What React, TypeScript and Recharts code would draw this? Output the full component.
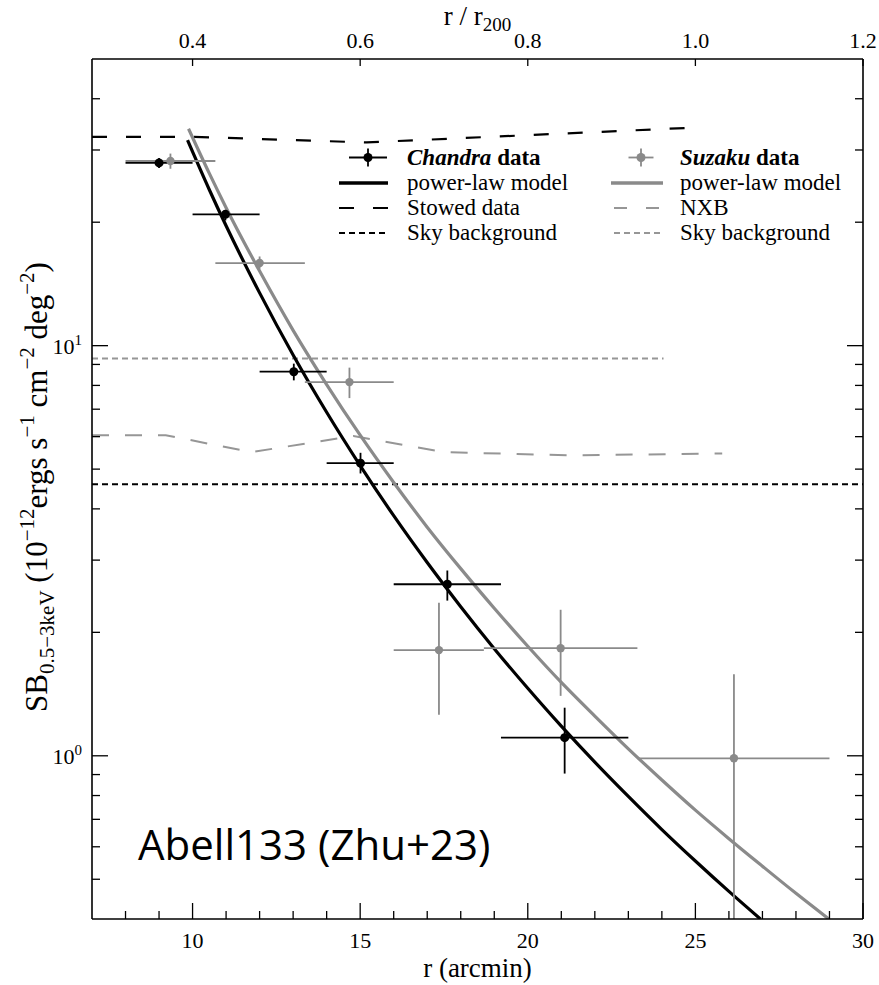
import React from 'react';
import { ComposedChart, Line, Scatter, XAxis, YAxis, ErrorBar, Legend } from 'recharts';

// ---------------- data ----------------
// Chandra surface-brightness profile
const chandraR = [9.0, 10.98, 13.02, 15.01, 17.6, 21.1];
const chandraRLo = [8.0, 10.0, 12.0, 14.0, 16.0, 19.2];
const chandraRHi = [10.0, 12.0, 14.0, 16.0, 19.2, 23.0];
const chandraSB = [27.9, 20.9, 8.64, 5.17, 2.62, 1.107];
const chandraSBLo = [27.1, 20.2, 8.23, 4.88, 2.39, 0.905];
const chandraSBHi = [28.7, 21.4, 9.04, 5.48, 2.83, 1.31];

// Suzaku surface-brightness profile
const suzakuR = [9.34, 12.0, 14.68, 17.35, 20.98, 26.15];
const suzakuRLo = [8.0, 10.68, 13.35, 16.0, 18.69, 23.27];
const suzakuRHi = [10.68, 13.35, 16.0, 18.69, 23.27, 29.0];
const suzakuSB = [28.2, 15.9, 8.15, 1.81, 1.83, 0.986];
const suzakuSBLo = [27.0, 15.4, 7.45, 1.26, 1.4, 0.4];
const suzakuSBHi = [29.4, 16.5, 8.84, 2.36, 2.27, 1.58];

// power-law models
const chandraModelR = [9.85, 10.5, 11, 12, 13, 14, 15, 16, 17, 18, 19, 20, 21, 22, 23, 24, 25, 26, 26.94];
const chandraModelSB = [31.7, 24.0, 19.6, 13.45, 9.49, 6.88, 5.1, 3.85, 2.96, 2.31, 1.825, 1.461, 1.181, 0.965, 0.796, 0.661, 0.554, 0.467, 0.4];
const suzakuModelR = [9.88, 10.5, 11, 12, 13, 14, 15, 16, 17, 18, 19, 20, 21, 22, 23, 24, 25, 26, 27, 28, 28.98];
const suzakuModelSB = [33.8, 26.3, 21.7, 15.2, 10.9, 8.04, 6.05, 4.64, 3.61, 2.86, 2.29, 1.85, 1.51, 1.25, 1.04, 0.873, 0.737, 0.628, 0.538, 0.462, 0.4];

// backgrounds
const stowedR = [7, 10, 15.2, 24.9];
const stowedSB = [32.3, 32.3, 31.3, 34.0];
const nxbR = [7, 9.2, 11.75, 14.8, 17.5, 21.3, 25.8];
const nxbSB = [6.05, 6.05, 5.5, 6.02, 5.5, 5.4, 5.46];
const chandraSkyR = [7, 30];
const chandraSkySB = [4.59, 4.59];
const suzakuSkyR = [7, 24.05];
const suzakuSkySB = [9.3, 9.3];

// axes
const xDomain = [7, 30];
const xMajorTicks = [10, 15, 20, 25, 30];
const xMinorTicks = [8, 9, 11, 12, 13, 14, 16, 17, 18, 19, 21, 22, 23, 24, 26, 27, 28, 29];
const topTickLabels = ['0.4', '0.6', '0.8', '1.0', '1.2'];
const yDomain = [0.4, 50];
const yMajorTicks = [1, 10];
const yMajorExponents = ['0', '1'];
const yMinorTicks = [0.5, 0.6, 0.7, 0.8, 0.9, 2, 3, 4, 5, 6, 7, 8, 9, 20, 30, 40];

const legendLeftLabels = ['power-law model', 'Stowed data', 'Sky background'];
const legendRightLabels = ['power-law model', 'NXB', 'Sky background'];
const annotationText = 'Abell133 (Zhu+23)';

// ---------------- build series ----------------
const toLine = (xs: number[], ys: number[]) => xs.map((x, i) => ({ x, y: ys[i] }));
const toPoints = (xs: number[], xlo: number[], xhi: number[], ys: number[], ylo: number[], yhi: number[]) =>
  xs.map((x, i) => ({
    x,
    y: ys[i],
    ex: [x - xlo[i], xhi[i] - x],
    ey: [ys[i] - ylo[i], yhi[i] - ys[i]],
  }));

const chandraPts = toPoints(chandraR, chandraRLo, chandraRHi, chandraSB, chandraSBLo, chandraSBHi);
const suzakuPts = toPoints(suzakuR, suzakuRLo, suzakuRHi, suzakuSB, suzakuSBLo, suzakuSBHi);
const chandraModel = toLine(chandraModelR, chandraModelSB);
const suzakuModel = toLine(suzakuModelR, suzakuModelSB);
const stowed = toLine(stowedR, stowedSB);
const nxb = toLine(nxbR, nxbSB);
const chandraSky = toLine(chandraSkyR, chandraSkySB);
const suzakuSky = toLine(suzakuSkyR, suzakuSkySB);

const bottomTicks = [...xMinorTicks, ...xMajorTicks].sort((a, b) => a - b);
const yTicks = [...yMinorTicks, ...yMajorTicks].sort((a, b) => a - b);

// ---------------- style ----------------
const W = 879;
const H = 985;
const PLOT = { left: 92, right: 863, top: 59, bottom: 919 };
const SERIF = '"Liberation Serif", Tinos, "Times New Roman", Times, "Noto Serif", "DejaVu Serif", FreeSerif, serif';
const SANS = '"Open Sans", "Noto Sans", sans-serif';
const serif = (size: number, extra: any = {}) => ({ fontFamily: SERIF, fontSize: size, ...extra });
const BLACK = '#000000';
const GRAY = '#8a8a8a';
const LGRAY = '#969696';
const TICK_W = 1.3;

const BottomTick = (p: any) => {
  const v = p.payload.value;
  const major = xMajorTicks.includes(v);
  return (
    <g>
      <line x1={p.x} x2={p.x} y1={p.y} y2={p.y - (major ? 16 : 8)} stroke={BLACK} strokeWidth={TICK_W} />
      {major && (
        <text x={p.x} y={p.y + 29} textAnchor="middle" style={serif(22)} fill={BLACK}>
          {v}
        </text>
      )}
    </g>
  );
};

const TopTick = (p: any) => {
  const v = p.payload.value;
  const idx = xMajorTicks.indexOf(v);
  return (
    <g>
      <line x1={p.x} x2={p.x} y1={p.y} y2={p.y + 7} stroke={BLACK} strokeWidth={TICK_W} />
      {idx >= 0 && (
        <text x={p.x} y={p.y - 11} textAnchor="middle" style={serif(22)} fill={BLACK}>
          {topTickLabels[idx]}
        </text>
      )}
    </g>
  );
};

const LeftTick = (p: any) => {
  const v = p.payload.value;
  const idx = yMajorTicks.indexOf(v);
  return (
    <g>
      <line x1={p.x} x2={p.x + (idx >= 0 ? 16 : 8)} y1={p.y} y2={p.y} stroke={BLACK} strokeWidth={TICK_W} />
      {idx >= 0 && (
        <text x={p.x - 10} y={p.y + 8} textAnchor="end" style={serif(22)} fill={BLACK}>
          10
          <tspan dy={-9} style={{ fontSize: 15 }}>
            {yMajorExponents[idx]}
          </tspan>
        </text>
      )}
    </g>
  );
};

const RightTick = (p: any) => {
  const v = p.payload.value;
  const major = yMajorTicks.includes(v);
  return (
    <g>
      <line x1={p.x} x2={p.x - (major ? 16 : 8)} y1={p.y} y2={p.y} stroke={BLACK} strokeWidth={TICK_W} />
    </g>
  );
};

const BottomTitle = () => (
  <text x={(PLOT.left + PLOT.right) / 2} y={977} textAnchor="middle" style={serif(27)} fill={BLACK}>
    r (arcmin)
  </text>
);

const TopTitle = () => (
  <text x={(PLOT.left + PLOT.right) / 2} y={25} textAnchor="middle" style={serif(27)} fill={BLACK}>
    {'r / r'}
    <tspan dy={6} style={{ fontSize: 19 }}>
      200
    </tspan>
  </text>
);

const SUP = { fontSize: 21 };
const LeftTitle = () => (
  <text transform={`translate(47, 487) rotate(-90)`} textAnchor="middle" style={serif(31)} fill={BLACK}>
    SB
    <tspan dy={7} style={SUP}>
      0.5−3keV
    </tspan>
    <tspan dy={-7}>{' (10'}</tspan>
    <tspan dy={-13} style={SUP}>
      −12
    </tspan>
    <tspan dy={13}>{'ergs s'}</tspan>
    <tspan dy={-13} style={SUP}>
      −1
    </tspan>
    <tspan dy={13}>{' cm'}</tspan>
    <tspan dy={-13} style={SUP}>
      −2
    </tspan>
    <tspan dy={13}>{' deg'}</tspan>
    <tspan dy={-13} style={SUP}>
      −2
    </tspan>
    <tspan dy={13}>{')'}</tspan>
  </text>
);

const DataSymbol = ({ cx, cy, color, half }: { cx: number; cy: number; color: string; half: number }) => (
  <g>
    <line x1={cx - half} x2={cx + half} y1={cy} y2={cy} stroke={color} strokeWidth={1.8} />
    <line x1={cx} x2={cx} y1={cy - 9} y2={cy + 9} stroke={color} strokeWidth={1.8} />
    <circle cx={cx} cy={cy} r={4.5} fill={color} />
  </g>
);

const rowsY = [17.5, 43, 68, 93];

const LegendContent = () => (
  <svg width={540} height={115} style={{ overflow: 'visible', display: 'block' }}>
    {/* left column (Chandra) */}
    <DataSymbol cx={38} cy={rowsY[0]} color={BLACK} half={19} />
    <text x={77} y={rowsY[0] + 7} style={serif(23)} fill={BLACK}>
      <tspan style={{ fontStyle: 'italic', fontWeight: 'bold' }}>Chandra</tspan>
      <tspan style={{ fontWeight: 'bold' }}>{' data'}</tspan>
    </text>
    <line x1={9} x2={58} y1={rowsY[1]} y2={rowsY[1]} stroke={BLACK} strokeWidth={3.5} />
    <line x1={9} x2={58} y1={rowsY[2]} y2={rowsY[2]} stroke={BLACK} strokeWidth={2.2} strokeDasharray="15 19" />
    <line x1={9} x2={58} y1={rowsY[3]} y2={rowsY[3]} stroke={BLACK} strokeWidth={2} strokeDasharray="6 4" />
    {legendLeftLabels.map((t, i) => (
      <text key={t + i} x={77} y={rowsY[i + 1] + 7} style={serif(23)} fill={BLACK}>
        {t}
      </text>
    ))}
    {/* right column (Suzaku) */}
    <DataSymbol cx={311} cy={rowsY[0]} color={GRAY} half={12.5} />
    <text x={350} y={rowsY[0] + 7} style={serif(23)} fill={BLACK}>
      <tspan style={{ fontStyle: 'italic', fontWeight: 'bold' }}>Suzaku</tspan>
      <tspan style={{ fontWeight: 'bold' }}>{' data'}</tspan>
    </text>
    <line x1={281} x2={333} y1={rowsY[1]} y2={rowsY[1]} stroke={GRAY} strokeWidth={3.5} />
    <line x1={284} x2={331} y1={rowsY[2]} y2={rowsY[2]} stroke={LGRAY} strokeWidth={2} strokeDasharray="13 19" />
    <line x1={284} x2={331} y1={rowsY[3]} y2={rowsY[3]} stroke={LGRAY} strokeWidth={2} strokeDasharray="6 4" />
    {legendRightLabels.map((t, i) => (
      <text key={t + i} x={350} y={rowsY[i + 1] + 7} style={serif(23)} fill={BLACK}>
        {t}
      </text>
    ))}
  </svg>
);

const blackDot = (p: any) => <circle cx={p.cx} cy={p.cy} r={4.5} fill={BLACK} />;
const grayDot = (p: any) => <circle cx={p.cx} cy={p.cy} r={4.2} fill={GRAY} />;

export default function App() {
  return (
    <div style={{ position: 'absolute', left: 0, top: 0, width: W, height: H, background: '#fff' }}>
      <ComposedChart width={W} height={H} margin={{ top: 0, right: 0, bottom: 0, left: 0 }}>
        <XAxis
          xAxisId="b"
          type="number"
          dataKey="x"
          domain={xDomain}
          allowDataOverflow
          orientation="bottom"
          height={H - PLOT.bottom}
          ticks={bottomTicks}
          interval={0}
          tickSize={0}
          tickMargin={0}
          tickLine={false}
          axisLine={{ stroke: BLACK, strokeWidth: 1.6 }}
          tick={BottomTick}
          label={<BottomTitle />}
        />
        <XAxis
          xAxisId="t"
          type="number"
          dataKey="x"
          domain={xDomain}
          allowDataOverflow
          orientation="top"
          height={PLOT.top}
          ticks={xMajorTicks}
          interval={0}
          tickSize={0}
          tickMargin={0}
          tickLine={false}
          axisLine={{ stroke: BLACK, strokeWidth: 1.6 }}
          tick={TopTick}
          label={<TopTitle />}
        />
        <YAxis
          yAxisId="l"
          type="number"
          dataKey="y"
          scale="log"
          domain={yDomain}
          allowDataOverflow
          orientation="left"
          width={PLOT.left}
          ticks={yTicks}
          interval={0}
          tickSize={0}
          tickMargin={0}
          tickLine={false}
          axisLine={{ stroke: BLACK, strokeWidth: 1.6 }}
          tick={LeftTick}
          label={<LeftTitle />}
        />
        <YAxis
          yAxisId="r"
          type="number"
          dataKey="y"
          scale="log"
          domain={yDomain}
          allowDataOverflow
          orientation="right"
          width={W - PLOT.right}
          ticks={yTicks}
          interval={0}
          tickSize={0}
          tickMargin={0}
          tickLine={false}
          axisLine={{ stroke: BLACK, strokeWidth: 1.6 }}
          tick={RightTick}
        />

        <Line data={stowed} xAxisId="b" yAxisId="l" dataKey="y" type="linear" stroke={BLACK} strokeWidth={2.2}
          strokeDasharray="15 19" dot={false} activeDot={false} isAnimationActive={false} legendType="none" />
        <Line data={nxb} xAxisId="b" yAxisId="l" dataKey="y" type="linear" stroke={LGRAY} strokeWidth={2}
          strokeDasharray="17 16" dot={false} activeDot={false} isAnimationActive={false} legendType="none" />
        <Line data={suzakuSky} xAxisId="b" yAxisId="l" dataKey="y" type="linear" stroke={LGRAY} strokeWidth={2}
          strokeDasharray="6 4" dot={false} activeDot={false} isAnimationActive={false} legendType="none" />
        <Line data={chandraSky} xAxisId="t" yAxisId="r" dataKey="y" type="linear" stroke={BLACK} strokeWidth={2}
          strokeDasharray="6 4" dot={false} activeDot={false} isAnimationActive={false} legendType="none" />
        <Line data={suzakuModel} xAxisId="b" yAxisId="l" dataKey="y" type="monotone" stroke={GRAY} strokeWidth={3.2}
          dot={false} activeDot={false} isAnimationActive={false} legendType="none" />
        <Line data={chandraModel} xAxisId="b" yAxisId="l" dataKey="y" type="monotone" stroke={BLACK} strokeWidth={3.2}
          dot={false} activeDot={false} isAnimationActive={false} legendType="none" />

        <Scatter data={suzakuPts} xAxisId="b" yAxisId="l" dataKey="y" shape={grayDot} isAnimationActive={false} legendType="none">
          <ErrorBar dataKey="ex" direction="x" width={0} stroke={GRAY} strokeWidth={1.8} isAnimationActive={false} />
          <ErrorBar dataKey="ey" direction="y" width={0} stroke={GRAY} strokeWidth={1.8} isAnimationActive={false} />
        </Scatter>
        <Scatter data={chandraPts} xAxisId="b" yAxisId="l" dataKey="y" shape={blackDot} isAnimationActive={false} legendType="none">
          <ErrorBar dataKey="ex" direction="x" width={0} stroke={BLACK} strokeWidth={1.8} isAnimationActive={false} />
          <ErrorBar dataKey="ey" direction="y" width={0} stroke={BLACK} strokeWidth={1.8} isAnimationActive={false} />
        </Scatter>

        <Legend
          layout="horizontal"
          verticalAlign="middle"
          align="center"
          wrapperStyle={{ position: 'absolute', left: 330, top: 140, width: 540, height: 115, pointerEvents: 'none' }}
          content={() => <LegendContent />}
        />
      </ComposedChart>
      <svg width={W} height={H} style={{ position: 'absolute', left: 0, top: 0, pointerEvents: 'none' }}>
        <text x={138} y={860} style={{ fontFamily: SANS, fontSize: 42 }} fill={BLACK}>
          {annotationText}
        </text>
      </svg>
    </div>
  );
}
